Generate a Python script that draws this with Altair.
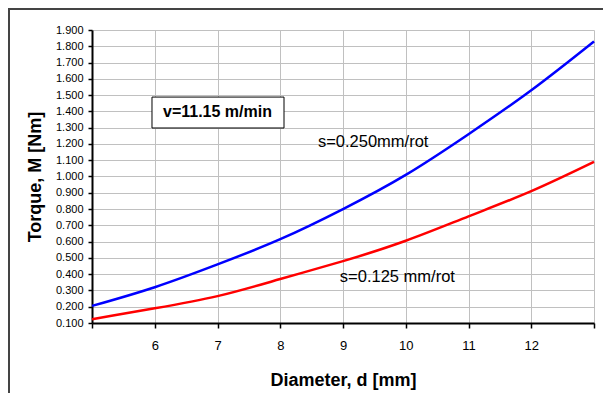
import altair as alt
import pandas as pd

diameter = [5, 6, 7, 8, 9, 10, 11, 12, 13]
torque_s250 = [0.205, 0.32, 0.46, 0.615, 0.80, 1.01, 1.26, 1.53, 1.83]
torque_s125 = [0.123, 0.19, 0.265, 0.37, 0.48, 0.605, 0.755, 0.91, 1.09]
series_names = ["s=0.250mm/rot", "s=0.125 mm/rot"]
y_ticks = [round(0.1 * i, 1) for i in range(1, 20)]
x_ticks = list(range(5, 14))

rows = []
for d, a, b in zip(diameter, torque_s250, torque_s125):
    rows.append({"d": d, "M": a, "s": series_names[0]})
    rows.append({"d": d, "M": b, "s": series_names[1]})
df = pd.DataFrame(rows)

FONT = "Liberation Sans"

x_scale = alt.Scale(domain=[5, 13], nice=False, zero=False)
y_scale = alt.Scale(domain=[0.1, 1.9], nice=False, zero=False)
x_axis = alt.Axis(values=x_ticks, title="Diameter, d [mm]", format="d",
                  labelExpr="datum.value==5 || datum.value==13 ? '' : datum.label",
                  tickSize=5, labelPadding=11, titleY=57, labelOverlap=False,
                  titleBaseline="middle")
y_axis = alt.Axis(values=y_ticks, format=".3f", title="Torque, M [Nm]",
                  tickSize=4, labelPadding=5, titleX=-57, labelOverlap=False,
                  titleBaseline="middle")

lines = alt.Chart(df).mark_line(strokeWidth=2.5, interpolate="natural").encode(
    x=alt.X("d:Q", scale=x_scale, axis=x_axis),
    y=alt.Y("M:Q", scale=y_scale, axis=y_axis),
    color=alt.Color("s:N", scale=alt.Scale(domain=series_names, range=["#0000ff", "#ff0000"]),
                    legend=None),
)

labels_df = pd.DataFrame({
    "d": [8.6, 8.95],
    "M": [1.21, 0.383],
    "t": series_names,
})
labels = alt.Chart(labels_df).mark_text(align="left", baseline="middle", fontSize=16.5,
                                        font=FONT, color="black").encode(
    x=alt.X("d:Q", scale=x_scale, axis=x_axis),
    y=alt.Y("M:Q", scale=y_scale, axis=y_axis), text="t:N")

box_df = pd.DataFrame({"d1": [5.956], "d2": [8.06], "m1": [1.298], "m2": [1.488]})
box = alt.Chart(box_df).mark_rect(fill="white", stroke="black", strokeWidth=1).encode(
    x=alt.X("d1:Q", scale=x_scale, axis=x_axis), x2="d2:Q",
    y=alt.Y("m1:Q", scale=y_scale, axis=y_axis), y2="m2:Q")

vtext_df = pd.DataFrame({"d": [7.0], "M": [1.395], "t": ["v=11.15 m/min"]})
vtext = alt.Chart(vtext_df).mark_text(align="center", baseline="middle", fontSize=16,
                                      fontWeight="bold", font=FONT, color="black").encode(
    x=alt.X("d:Q", scale=x_scale, axis=x_axis),
    y=alt.Y("M:Q", scale=y_scale, axis=y_axis), text="t:N")

border_src = pd.DataFrame({"k": [0]})
border_left = alt.Chart(border_src).mark_rule(color="#444444", strokeWidth=2).encode(
    x=alt.value(-83), y=alt.value(-22), y2=alt.value(400))
border_top = alt.Chart(border_src).mark_rule(color="#444444", strokeWidth=2).encode(
    x=alt.value(-83), x2=alt.value(620), y=alt.value(-21))

chart = alt.layer(border_left, border_top, lines, box, vtext, labels).properties(
    width=502, height=293,
    autosize=alt.AutoSizeParams(type="none"),
    padding={"left": 84, "top": 22, "right": 9, "bottom": 70},
).configure_view(stroke=None).configure_axis(
    gridColor="#c0c0c0", gridWidth=1, domainColor="black", domainWidth=2,
    tickColor="black", tickWidth=1.5, labelColor="black", labelFont=FONT, labelFontSize=11,
    titleFont=FONT, titleFontSize=18, titleFontWeight="bold", titleColor="black",
).configure_axisX(labelFontSize=13)

chart.save("out.html", embed_options={"renderer": "svg", "actions": False})
